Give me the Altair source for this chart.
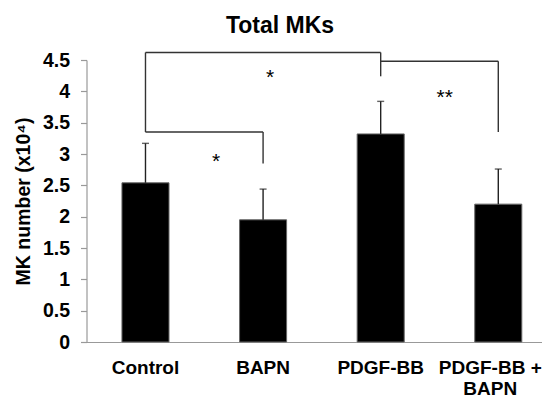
import altair as alt
import pandas as pd

categories = ["Control", "BAPN", "PDGF-BB", "PDGF-BB + BAPN"]
means = [2.54, 1.95, 3.32, 2.20]
err_top = [3.17, 2.44, 3.84, 2.76]
y_ticks = [0, 0.5, 1, 1.5, 2, 2.5, 3, 3.5, 4, 4.5]

# significance bracket segments: (from category, to category, from y, to y)
seg_x = ["Control", "Control", "BAPN", "Control", "PDGF-BB", "PDGF-BB", "PDGF-BB + BAPN"]
seg_x2 = ["BAPN", "Control", "BAPN", "PDGF-BB", "PDGF-BB", "PDGF-BB + BAPN", "PDGF-BB + BAPN"]
seg_y = [3.35, 3.35, 2.85, 4.62, 4.24, 4.48, 3.35]
seg_y2 = [3.35, 4.62, 3.35, 4.62, 4.62, 4.48, 4.48]

star_labels = ["*", "*", "**"]
star_cat = ["BAPN", "BAPN", "PDGF-BB"]
star_y = [4.22, 2.87, 3.89]
star_dx = [7, -47, 64]

FONT = "Liberation Sans"

df = pd.DataFrame({"cat": categories, "mean": means, "top": err_top})
seg = pd.DataFrame({"x": seg_x, "x2": seg_x2, "y": seg_y, "y2": seg_y2})

xscale = alt.Scale(domain=categories, paddingInner=0.6, paddingOuter=0.2345, align=0.643)
yscale = alt.Scale(domain=[0, 4.5])

x_axis = alt.Axis(title=None, labelAngle=0, ticks=False, labelLineHeight=21, labelPadding=16,
                  labelFontSize=19,
                  labelOffset={"condition": {"test": "datum.value == 'PDGF-BB + BAPN'", "value": -8},
                               "value": 0},
                  labelExpr="datum.value == 'PDGF-BB + BAPN' ? ['PDGF-BB +', 'BAPN'] : datum.value")
y_axis = alt.Axis(title="MK number (x10\u2074)", values=y_ticks, format="~g", grid=False,
                  tickSize=6, labelPadding=11, titlePadding=9, labelFontSize=19.5,
                  titleFontSize=19.5)

def X(field):
    return alt.X(field, scale=xscale, sort=categories, axis=x_axis)

def Y(field):
    return alt.Y(field, scale=yscale, axis=y_axis)

bars = alt.Chart(df).mark_bar(color="black", stroke="#666666", strokeWidth=1).encode(
    x=X("cat:N"), y=Y("mean:Q"))

err = alt.Chart(df).mark_rule(color="#222222", strokeWidth=1.4).encode(
    x=X("cat:N"), y=Y("mean:Q"), y2="top:Q")
caps = alt.Chart(df).mark_tick(color="#222222", orient="horizontal", size=7, thickness=1.4).encode(
    x=X("cat:N"), y=Y("top:Q"))

brackets = alt.Chart(seg).mark_rule(color="#333333", strokeWidth=1.4).encode(
    x=X("x:N"), x2="x2:N", y=Y("y:Q"), y2="y2:Q")

star_layers = []
for lab, c, yv, dx in zip(star_labels, star_cat, star_y, star_dx):
    sdf = pd.DataFrame({"cat": [c], "y": [yv], "lab": [lab]})
    star_layers.append(
        alt.Chart(sdf).mark_text(font=FONT, fontSize=21, color="black", dx=dx, baseline="middle").encode(
            x=X("cat:N"), y=Y("y:Q"), text="lab:N"))

chart = alt.layer(bars, err, caps, brackets, *star_layers).properties(
    width=455, height=282,
    title=alt.TitleParams("Total MKs", font=FONT, fontSize=23, fontWeight="bold", color="black",
                          anchor="middle", dx=-34, offset=12),
    padding={"left": 78.5, "top": 52, "right": 0.5, "bottom": 57},
    autosize=alt.AutoSizeParams(type="none"),
).configure_view(stroke=None).configure_axis(
    labelFont=FONT, labelFontWeight="bold", labelColor="black",
    domainColor="#999999", tickColor="#999999", domainWidth=1.2, tickWidth=1.2,
    titleFont=FONT, titleFontWeight="bold", titleColor="black")

chart.save("out.html", embed_options={"renderer": "svg", "actions": False})
